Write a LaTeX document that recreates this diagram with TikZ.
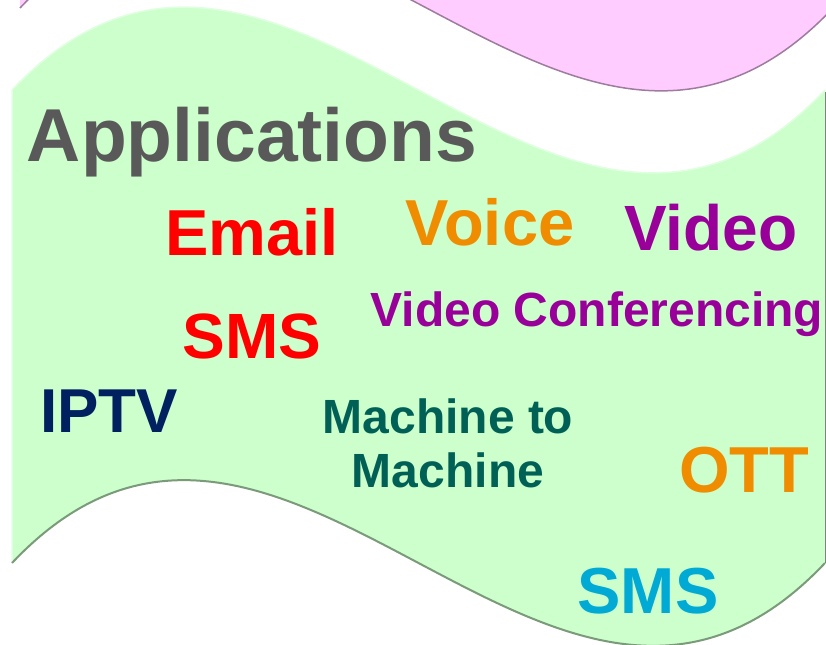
\documentclass[tikz,border=0pt]{standalone}
\usepackage{fontspec}
\setmainfont{Liberation Sans}

\definecolor{bandgreen}{RGB}{204,255,204}
\definecolor{bandedge}{RGB}{122,154,122}
\definecolor{bandglow}{RGB}{224,255,224}
\definecolor{bandpink}{RGB}{255,204,255}
\definecolor{pinkedge}{RGB}{158,124,158}
\definecolor{titlegray}{RGB}{89,89,89}
\definecolor{appred}{RGB}{255,0,0}
\definecolor{apporange}{RGB}{240,140,0}
\definecolor{apppurple}{RGB}{153,0,153}
\definecolor{appnavy}{RGB}{0,32,96}
\definecolor{appteal}{RGB}{0,96,86}
\definecolor{appcyan}{RGB}{0,170,212}

\tikzset{
  word/.style={inner sep=0pt, anchor=base, font=\bfseries\fontsize{#1bp}{54bp}\selectfont}
}

\begin{document}
\begin{tikzpicture}[x=1bp,y=-1bp]
    \clip (0,0) rectangle (826,645);
    % pink band above
    \fill[bandpink] (20,8) .. controls (291,-279) and (562,295) .. (833,8) -- (833,-300) -- (20,-300) -- cycle;
    \draw[pinkedge, line width=1.5bp] (20,8) .. controls (291,-279) and (562,295) .. (833,8);
    % green band
    \fill[bandgreen] (12,90) .. controls (283,-197) and (554,377) .. (825,90) -- (825,563)
        .. controls (554,850) and (283,276) .. (12,563) -- cycle;
    \draw[bandglow, line width=1.5bp] (12,563) -- (12,90) .. controls (283,-197) and (554,377) .. (825,90);
    \draw[bandedge, line width=2bp] (12,563) .. controls (283,276) and (554,850) .. (825,563);
    \draw[gray, line width=0.8bp] (825,92) -- (825,563);

    \node[word=75, titlegray] (apps)  at (252,162) {Applications};
    \node[word=65, appred]    (email) at (252,255) {Email};
    \node[word=65, apporange] (voice) at (490,246) {Voice};
    \node[word=64, apppurple] (video) at (711,250) {Video};
    \node[word=64, appred]    (sms)   at (252,358) {SMS};
    \node[word=48, apppurple] (conf)  at (597,326) {Video Conferencing};
    \node[word=62, appnavy]   (iptv)  at (109,432) {IPTV};
    \node[word=48, appteal, align=center] (mtm) at (448,487) {Machine to\\Machine};
    \node[word=65, apporange] (ott)   at (744,492) {OTT};
    \node[word=65, appcyan]   (sms2)  at (648,613) {SMS};
\end{tikzpicture}
\end{document}
